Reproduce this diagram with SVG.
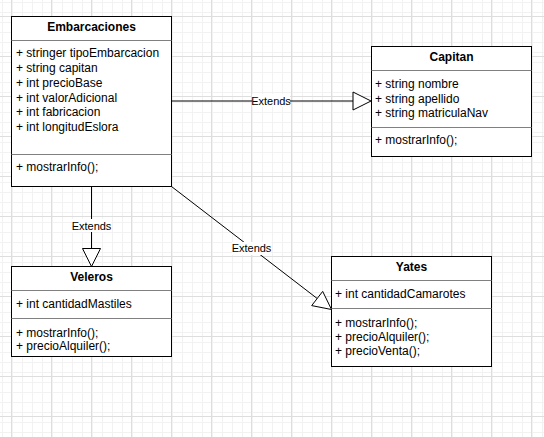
<svg xmlns="http://www.w3.org/2000/svg" width="544" height="437" viewBox="0 0 544 437">
  <style>
    .box { fill: #ffffff; stroke: #000000; stroke-width: 1; }
    .sep { stroke: #808080; stroke-width: 1; }
    .title { font-family: "Liberation Sans", Arial, sans-serif; font-size: 12px; font-weight: bold; text-anchor: middle; fill: #000; }
    .member { font-family: "Liberation Sans", Arial, sans-serif; font-size: 12px; fill: #000; }
    .edge { stroke: #000000; stroke-width: 1; fill: none; }
    .head { fill: #ffffff; stroke: #000000; stroke-width: 1; }
    .label { font-family: "Liberation Sans", Arial, sans-serif; font-size: 11px; text-anchor: middle; fill: #000; }
    .labelbg { fill: #ffffff; }
  </style>
  <defs>
    <pattern id="minor" patternUnits="userSpaceOnUse" x="11" y="16" width="10" height="10">
      <path d="M0.5 0 V10 M0 0.5 H10" stroke="#f2f2f2" stroke-width="1" fill="none"/>
    </pattern>
    <pattern id="major" patternUnits="userSpaceOnUse" x="11" y="16" width="40" height="40">
      <rect width="40" height="40" fill="url(#minor)"/>
      <path d="M0.5 0 V40 M0 0.5 H40" stroke="#dedede" stroke-width="1" fill="none"/>
    </pattern>
  </defs>

  <!-- background grid -->
  <rect width="544" height="437" fill="#ffffff"/>
  <rect width="544" height="437" fill="url(#major)"/>

  <!-- connectors -->
  <g id="connectors">
    <!-- Embarcaciones -> Capitan -->
    <line class="edge" x1="171.5" y1="101" x2="353" y2="101"/>
    <rect class="labelbg" x="252" y="94" width="38" height="13"/>
    <text class="label" x="271" y="105">Extends</text>
    <polygon class="head" points="353,92 371,101 353,110"/>

    <!-- Embarcaciones -> Veleros -->
    <line class="edge" x1="91.5" y1="186.5" x2="91.5" y2="248.5"/>
    <rect class="labelbg" x="72" y="219" width="39" height="13"/>
    <text class="label" x="91.5" y="230">Extends</text>
    <polygon class="head" points="82.5,248.5 100.5,248.5 91.5,266.5"/>

    <!-- Embarcaciones -> Yates -->
    <line class="edge" x1="171.5" y1="186.5" x2="317.2" y2="298.5"/>
    <rect class="labelbg" x="232" y="242" width="39" height="13"/>
    <text class="label" x="251.5" y="252">Extends</text>
    <polygon class="head" points="331.5,309.5 311.7,305.6 322.7,291.4"/>
  </g>

  <!-- Embarcaciones -->
  <g id="embarcaciones">
    <rect class="box" x="11.5" y="16.5" width="160" height="170"/>
    <line class="sep" x1="11.5" y1="40.5" x2="171.5" y2="40.5"/>
    <line class="sep" x1="11.5" y1="154.5" x2="171.5" y2="154.5"/>
    <text class="title" x="91.5" y="31">Embarcaciones</text>
    <text class="member" x="16" y="57">+ stringer tipoEmbarcacion</text>
    <text class="member" x="16" y="72">+ string capitan</text>
    <text class="member" x="16" y="87">+ int precioBase</text>
    <text class="member" x="16" y="102">+ int valorAdicional</text>
    <text class="member" x="16" y="116">+ int fabricacion</text>
    <text class="member" x="16" y="131">+ int longitudEslora</text>
    <text class="member" x="16" y="171">+ mostrarInfo();</text>
  </g>

  <!-- Capitan -->
  <g id="capitan">
    <rect class="box" x="371.5" y="46.5" width="160" height="110"/>
    <line class="sep" x1="371.5" y1="70.5" x2="531.5" y2="70.5"/>
    <line class="sep" x1="371.5" y1="127.5" x2="531.5" y2="127.5"/>
    <text class="title" x="451.5" y="61">Capitan</text>
    <text class="member" x="375" y="88">+ string nombre</text>
    <text class="member" x="375" y="103">+ string apellido</text>
    <text class="member" x="375" y="117">+ string matriculaNav</text>
    <text class="member" x="375" y="144">+ mostrarInfo();</text>
  </g>

  <!-- Veleros -->
  <g id="veleros">
    <rect class="box" x="11.5" y="266.5" width="160" height="90"/>
    <line class="sep" x1="11.5" y1="290.5" x2="171.5" y2="290.5"/>
    <line class="sep" x1="11.5" y1="318.5" x2="171.5" y2="318.5"/>
    <text class="title" x="91.5" y="281">Veleros</text>
    <text class="member" x="16" y="308">+ int cantidadMastiles</text>
    <text class="member" x="16" y="337">+ mostrarInfo();</text>
    <text class="member" x="16" y="350">+ precioAlquiler();</text>
  </g>

  <!-- Yates -->
  <g id="yates">
    <rect class="box" x="331.5" y="256.5" width="160" height="110"/>
    <line class="sep" x1="331.5" y1="280.5" x2="491.5" y2="280.5"/>
    <line class="sep" x1="331.5" y1="308.5" x2="491.5" y2="308.5"/>
    <text class="title" x="411.5" y="271">Yates</text>
    <text class="member" x="335" y="298">+ int cantidadCamarotes</text>
    <text class="member" x="335" y="327">+ mostrarInfo();</text>
    <text class="member" x="335" y="341">+ precioAlquiler();</text>
    <text class="member" x="335" y="355">+ precioVenta();</text>
  </g>
</svg>
